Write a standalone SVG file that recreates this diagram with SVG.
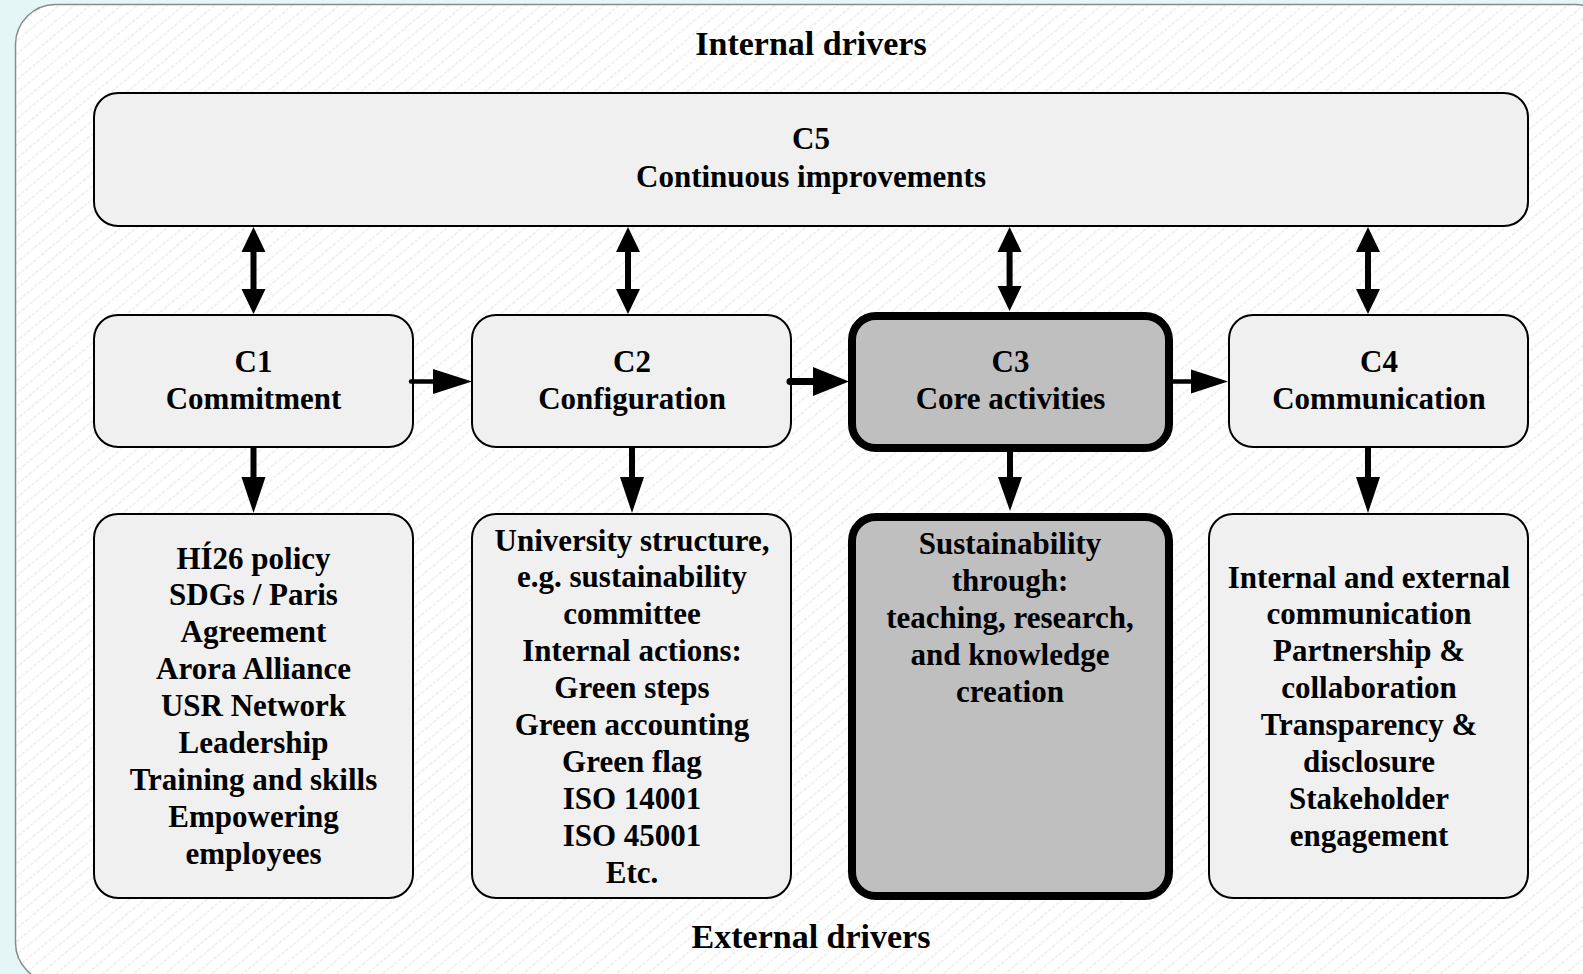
<svg xmlns="http://www.w3.org/2000/svg" width="1583" height="974" viewBox="0 0 1583 974">
  <defs>
    <pattern id="hatch" patternUnits="userSpaceOnUse" width="10" height="10" patternTransform="rotate(50)">
      <rect width="10" height="10" fill="#ffffff"/>
      <line x1="2" y1="0" x2="2" y2="10" stroke="#e9e9e9" stroke-width="1.3" stroke-dasharray="3 1.5"/>
    </pattern>
    <style>
      .panel { fill: url(#hatch); stroke: #8a8a8a; stroke-width: 1.5; }
      .box { fill: #f0f0f0; stroke: #000; stroke-width: 2; }
      .core { fill: #bfbfbf; stroke: #000; stroke-width: 8; }
      .t { font-family: "Liberation Serif", "Times New Roman", serif; font-weight: bold; font-size: 31px; fill: #000; text-anchor: middle; }
      .hdr { font-size: 34px; }
      .ln { stroke: #000; stroke-width: 6; fill: none; }
      .ln-h { stroke: #000; stroke-width: 4.5; fill: none; stroke-linecap: round; }
      .ln-bold { stroke: #000; stroke-width: 7; fill: none; stroke-linecap: round; }
      .head { fill: #000; }
    </style>
  </defs>

  <!-- page and hatched panel -->
  <rect x="0" y="0" width="1583" height="974" fill="#e4f7f6"/>
  <rect class="panel" x="15.5" y="4.5" width="1600" height="978" rx="40" ry="40"/>

  <text class="t hdr" x="811" y="55">Internal drivers</text>
  <text class="t hdr" x="811" y="948">External drivers</text>

  <!-- C5 -->
  <g id="c5">
    <rect class="box" x="94" y="93" width="1434" height="133" rx="24"/>
    <text class="t" x="811" y="149">C5</text>
    <text class="t" x="811" y="186.5">Continuous improvements</text>
  </g>

  <!-- C1 -->
  <g id="c1">
    <rect class="box" x="94" y="315" width="319" height="132" rx="24"/>
    <text class="t" x="253.5" y="371.5">C1</text>
    <text class="t" x="253.5" y="408.5">Commitment</text>
  </g>

  <!-- C2 -->
  <g id="c2">
    <rect class="box" x="472" y="315" width="319" height="132" rx="24"/>
    <text class="t" x="632" y="371.5">C2</text>
    <text class="t" x="632" y="408.5">Configuration</text>
  </g>

  <!-- C3 -->
  <g id="c3">
    <rect class="core" x="852" y="316" width="317" height="132" rx="24"/>
    <text class="t" x="1010.5" y="371.5">C3</text>
    <text class="t" x="1010.5" y="408.5">Core activities</text>
  </g>

  <!-- C4 -->
  <g id="c4">
    <rect class="box" x="1229" y="315" width="299" height="132" rx="24"/>
    <text class="t" x="1379" y="371.5">C4</text>
    <text class="t" x="1379" y="408.5">Communication</text>
  </g>

  <!-- C1 details -->
  <g id="c1-detail">
    <rect class="box" x="94" y="514" width="319" height="384" rx="24"/>
    <text class="t" x="253.5" y="568.5">HÍ26 policy</text>
    <text class="t" x="253.5" y="605.4">SDGs / Paris</text>
    <text class="t" x="253.5" y="642.3">Agreement</text>
    <text class="t" x="253.5" y="679.2">Arora Alliance</text>
    <text class="t" x="253.5" y="716.1">USR Network</text>
    <text class="t" x="253.5" y="753">Leadership</text>
    <text class="t" x="253.5" y="789.9">Training and skills</text>
    <text class="t" x="253.5" y="826.8">Empowering</text>
    <text class="t" x="253.5" y="863.7">employees</text>
  </g>

  <!-- C2 details -->
  <g id="c2-detail">
    <rect class="box" x="472" y="514" width="319" height="384" rx="24"/>
    <text class="t" x="632" y="550.5">University structure,</text>
    <text class="t" x="632" y="587.4">e.g. sustainability</text>
    <text class="t" x="632" y="624.3">committee</text>
    <text class="t" x="632" y="661.2">Internal actions:</text>
    <text class="t" x="632" y="698.1">Green steps</text>
    <text class="t" x="632" y="735">Green accounting</text>
    <text class="t" x="632" y="771.9">Green flag</text>
    <text class="t" x="632" y="808.8">ISO 14001</text>
    <text class="t" x="632" y="845.7">ISO 45001</text>
    <text class="t" x="632" y="882.6">Etc.</text>
  </g>

  <!-- C3 details -->
  <g id="c3-detail">
    <rect class="core" x="852" y="517" width="317" height="379" rx="24"/>
    <text class="t" x="1010" y="554">Sustainability</text>
    <text class="t" x="1010" y="590.9">through:</text>
    <text class="t" x="1010" y="627.8">teaching, research,</text>
    <text class="t" x="1010" y="664.7">and knowledge</text>
    <text class="t" x="1010" y="701.6">creation</text>
  </g>

  <!-- C4 details -->
  <g id="c4-detail">
    <rect class="box" x="1209" y="514" width="319" height="384" rx="24"/>
    <text class="t" x="1369" y="587.5">Internal and external</text>
    <text class="t" x="1369" y="624.4">communication</text>
    <text class="t" x="1369" y="661.3">Partnership &amp;</text>
    <text class="t" x="1369" y="698.2">collaboration</text>
    <text class="t" x="1369" y="735.1">Transparency &amp;</text>
    <text class="t" x="1369" y="772">disclosure</text>
    <text class="t" x="1369" y="808.9">Stakeholder</text>
    <text class="t" x="1369" y="845.8">engagement</text>
  </g>

  <!-- connectors -->
  <g id="connectors">
    <!-- C5 <-> C1..C4 -->
    <line class="ln" x1="253.5" y1="250" x2="253.5" y2="291"/>
    <polygon class="head" points="253.5,227 241.5,252 265.5,252"/>
    <polygon class="head" points="253.5,314 241.5,289 265.5,289"/>

    <line class="ln" x1="628" y1="250" x2="628" y2="291"/>
    <polygon class="head" points="628,227 616,252 640,252"/>
    <polygon class="head" points="628,314 616,289 640,289"/>

    <line class="ln" x1="1009.6" y1="250" x2="1009.6" y2="291"/>
    <polygon class="head" points="1009.6,227 997.6,252 1021.6,252"/>
    <polygon class="head" points="1009.6,311 997.6,286 1021.6,286"/>

    <line class="ln" x1="1368" y1="250" x2="1368" y2="291"/>
    <polygon class="head" points="1368,227 1356,252 1380,252"/>
    <polygon class="head" points="1368,314 1356,289 1380,289"/>

    <!-- C1 -> C2 -> C3 -> C4 -->
    <line class="ln-h" x1="411" y1="381.5" x2="436" y2="381.5"/>
    <polygon class="head" points="472,381.5 433,369 433,394"/>

    <line class="ln-bold" x1="790" y1="381.5" x2="816" y2="381.5"/>
    <polygon class="head" points="849,381.5 813,367 813,396"/>

    <line class="ln-h" x1="1173" y1="381.5" x2="1194" y2="381.5"/>
    <polygon class="head" points="1228,381.5 1191,369.5 1191,393.5"/>

    <!-- C1..C4 -> details -->
    <line class="ln" x1="253.5" y1="447" x2="253.5" y2="479"/>
    <polygon class="head" points="253.5,513 241.5,477 265.5,477"/>

    <line class="ln" x1="632" y1="447" x2="632" y2="479"/>
    <polygon class="head" points="632,513 620,477 644,477"/>

    <line class="ln" x1="1010" y1="452" x2="1010" y2="479"/>
    <polygon class="head" points="1010,511 998,477 1022,477"/>

    <line class="ln" x1="1368" y1="447" x2="1368" y2="479"/>
    <polygon class="head" points="1368,513 1356,477 1380,477"/>
  </g>
</svg>
